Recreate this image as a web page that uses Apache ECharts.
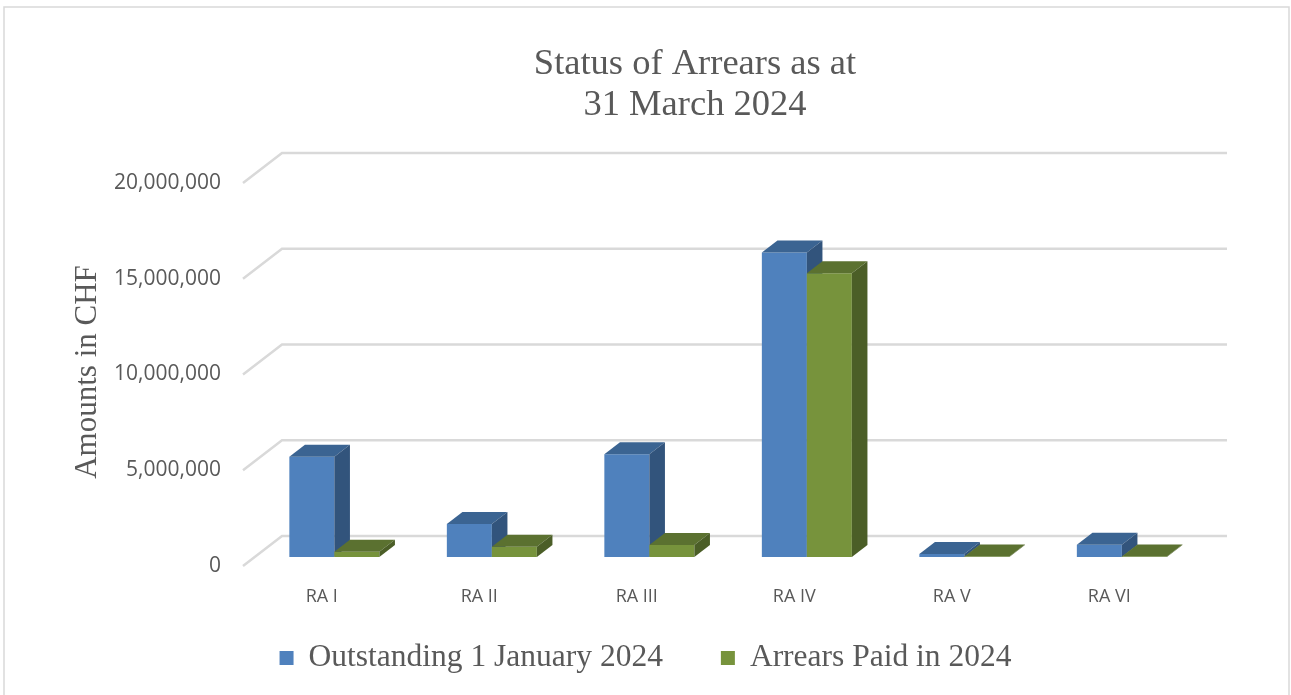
<!DOCTYPE html>
<html>
<head>
<meta charset="utf-8">
<script src="https://cdn.jsdelivr.net/npm/echarts@6/dist/echarts.min.js"></script>
<style>
  html, body { margin: 0; padding: 0; background: #fff; }
  #chart { width: 1291px; height: 695px; }
</style>
</head>
<body>
<div id="chart"></div>
<script>
const categories = ['RA I', 'RA II', 'RA III', 'RA IV', 'RA V', 'RA VI'];
const outstanding = [5240000, 1720000, 5370000, 15900000, 160000, 640000];
const paid = [280000, 540000, 630000, 14820000, 20000, 20000];
const yTicks = [0, 5000000, 10000000, 15000000, 20000000];
const seriesNames = ['Outstanding 1 January 2024', 'Arrears Paid in 2024'];

// fake 3d: full floor depth, front plane -> back wall, in px
const DEPTH = [39, -30];
const BAR_W = 0.2857; // of a category band

const blue = ['#4f81bd', '#3b6492', '#32547c'];
const green = ['#77933c', '#5b7130', '#4b5e27'];

function barRenderer(offset, colors) {
  return function (params, api) {
    const idx = api.value(0);
    const val = api.value(1);
    const band = api.size([1, 0])[0];
    const base = api.coord([idx, 0]);
    const top = api.coord([idx, val]);
    const w = band * BAR_W;
    const x0 = base[0] + offset * band + 0.3 * DEPTH[0];
    const yb = base[1] + 0.3 * DEPTH[1];
    const yt = top[1] + 0.3 * DEPTH[1];
    const dx = 0.4 * DEPTH[0], dy = 0.4 * DEPTH[1];
    return {
      type: 'group',
      children: [
        { type: 'rect', shape: { x: x0, y: yt, width: w, height: yb - yt }, style: { fill: colors[0] } },
        { type: 'polygon', shape: { points: [[x0, yt], [x0 + w, yt], [x0 + w + dx, yt + dy], [x0 + dx, yt + dy]] }, style: { fill: colors[1] } },
        { type: 'polygon', shape: { points: [[x0 + w, yb], [x0 + w, yt], [x0 + w + dx, yt + dy], [x0 + w + dx, yb + dy]] }, style: { fill: colors[2] } }
      ]
    };
  };
}

const chart = echarts.init(document.getElementById('chart'));

chart.setOption({
  animation: false,
  title: {
    text: 'Status of Arrears as at\n31 March 2024',
    left: 690,
    top: 39,
    textAlign: 'center',
    textStyle: { fontFamily: 'Liberation Serif', fontSize: 36.5, fontWeight: 'normal', color: '#595959', lineHeight: 41 }
  },
  legend: {
    data: seriesNames,
    bottom: 16,
    left: 'center',
    icon: 'rect',
    itemWidth: 14,
    itemHeight: 14,
    itemGap: 58,
    textStyle: { fontFamily: 'Liberation Serif', fontSize: 31.5, color: '#595959', padding: [0, 0, 0, 10] }
  },
  grid: { left: 243, right: 103, top: 183, bottom: 129 },
  xAxis: {
    type: 'category',
    data: categories,
    axisLine: { show: false },
    axisTick: { show: false },
    axisLabel: { margin: 22, fontFamily: 'Open Sans', fontSize: 18, color: '#595959' }
  },
  yAxis: {
    type: 'value',
    min: 0,
    max: 20000000,
    interval: 5000000,
    splitLine: { show: false },
    axisLine: { show: false },
    axisLabel: {
      margin: 22,
      fontFamily: 'Open Sans',
      fontSize: 21,
      color: '#595959',
      formatter: v => v.toLocaleString('en-US')
    }
  },
  graphic: [
    {
      type: 'rect',
      shape: { x: 4, y: 7, width: 1285, height: 700 },
      style: { fill: null, stroke: '#d9d9d9', lineWidth: 1.5 },
      silent: true
    },
    {
      type: 'text',
      x: 88,
      y: 372,
      rotation: Math.PI / 2,
      style: {
        text: 'Amounts in CHF',
        fontFamily: 'Liberation Serif',
        fontSize: 31,
        fill: '#595959',
        align: 'center',
        verticalAlign: 'middle'
      }
    }
  ],
  series: [
    {
      name: 'walls',
      type: 'custom',
      silent: true,
      z: 1,
      data: yTicks.map(v => [0, v]),
      renderItem(params, api) {
        const p = api.coord([0, api.value(1)]);
        const x0 = params.coordSys.x;
        const x1 = x0 + params.coordSys.width;
        return {
          type: 'polyline',
          shape: { points: [[x0, p[1]], [x0 + DEPTH[0], p[1] + DEPTH[1]], [x1 + DEPTH[0], p[1] + DEPTH[1]]] },
          style: { stroke: '#d9d9d9', lineWidth: 2.5, fill: null }
        };
      }
    },
    {
      name: seriesNames[0],
      type: 'custom',
      z: 2,
      itemStyle: { color: blue[0] },
      data: outstanding.map((v, i) => [i, v]),
      renderItem: barRenderer(-0.28, blue)
    },
    {
      name: seriesNames[1],
      type: 'custom',
      z: 3,
      itemStyle: { color: green[0] },
      data: paid.map((v, i) => [i, v]),
      renderItem: barRenderer(-0.28 + BAR_W, green)
    }
  ]
});
</script>
</body>
</html>
